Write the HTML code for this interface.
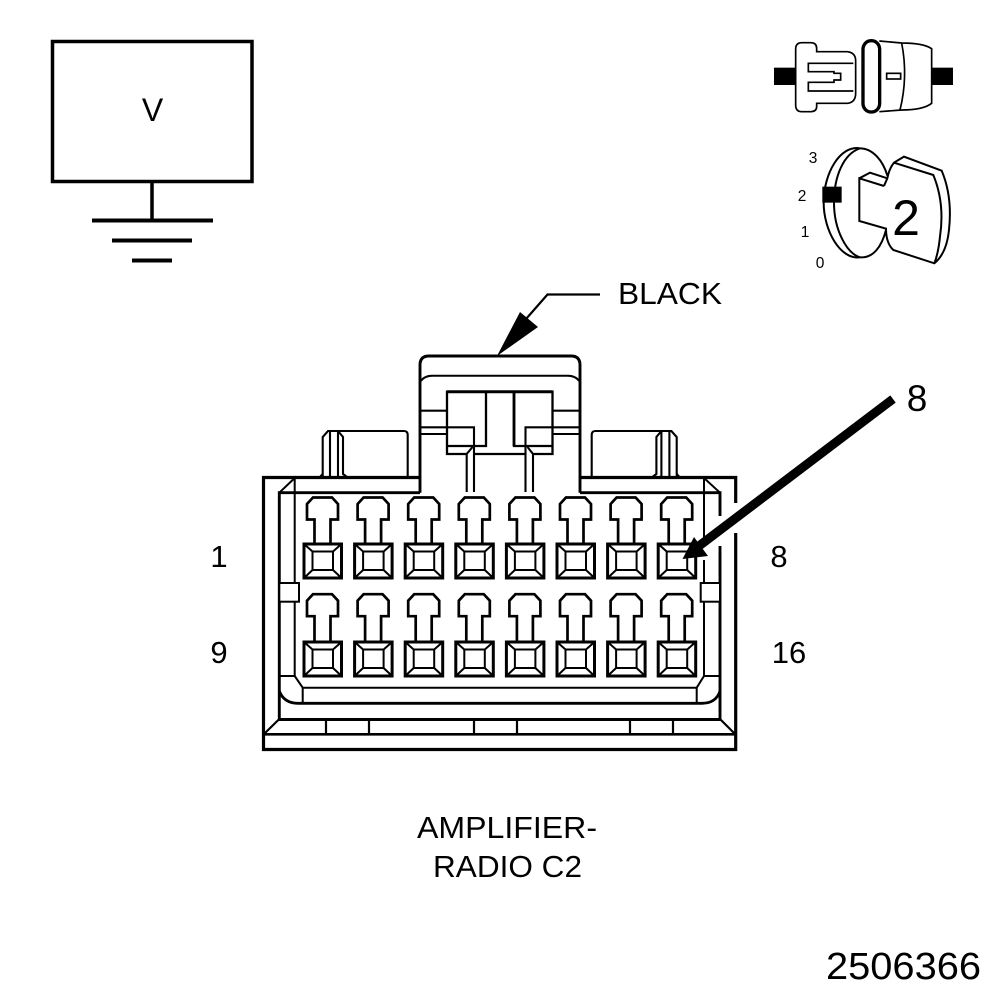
<!DOCTYPE html>
<html>
<head>
<meta charset="utf-8">
<title>Amplifier-Radio C2</title>
<style>
html,body{margin:0;padding:0;background:#fff;}
svg{display:block;}
text{font-family:"Liberation Sans",Arial,sans-serif;fill:#000;stroke:none;}
</style>
</head>
<body>
<svg width="1008" height="1000" viewBox="0 0 1008 1000" xmlns="http://www.w3.org/2000/svg">
<defs>
<g id="head" fill="none" stroke="#000" stroke-width="2.7">
  <path d="M314.5,544 V519.5 H307 V504 L313,497.5 H332 L338,504 V519.5 H330.5 V544"/>
</g>
<g id="sq" fill="none" stroke="#000">
  <rect x="304" y="544" width="37.5" height="34" fill="#fff" stroke-width="3"/>
  <rect x="312.5" y="551.5" width="20.5" height="18.5" stroke-width="2"/>
  <path d="M304,544 L312.5,551.5 M341.5,544 L333,551.5 M304,578 L312.5,570 M341.5,578 L333,570" stroke-width="2"/>
</g>
</defs>
<rect width="1008" height="1000" fill="#fff"/>

<!-- Ground box -->
<g fill="none" stroke="#000">
  <rect x="52.5" y="41.5" width="199.5" height="140" stroke-width="3.5"/>
  <path d="M152,182 V220" stroke-width="3.5"/>
  <path d="M92,220.5 H213 M112,240.5 H192 M132,260.5 H172" stroke-width="4"/>
</g>
<text x="152.5" y="121" font-size="32" text-anchor="middle">V</text>

<!-- Top right icons -->
<g transform="translate(760,30) scale(0.3333)" fill="none" stroke="#000" stroke-width="5">
  <rect x="42" y="113" width="66" height="52" fill="#000" stroke="none"/>
  <rect x="515" y="113" width="64" height="52" fill="#000" stroke="none"/>
  <path d="M107,58 Q107,38 125,38 H152 Q170,38 170,55 V65 H262 Q287,68 287,92 V190 Q287,217 262,220 H170 V230 Q170,245 152,245 H125 Q107,245 107,225 Z" fill="#fff"/>
  <path d="M280,100 H145 V125 H222 V130 H242 V150 H222 V157 H145 V183 H280"/>
  <path d="M358,33 L425,39 Q490,39 515,56 V220 Q490,240 425,240 L358,245" fill="#fff"/>
  <path d="M425,39 Q445,140 420,240"/>
  <rect x="380" y="130" width="42" height="17"/>
  <rect x="309" y="32" width="50" height="214" rx="24" ry="26" stroke-width="10" fill="#fff"/>

  <path d="M300,355 C240,345 191,430 191,518 C191,600 240,690 300,682" stroke-width="6"/>
  <path d="M300,355 C340,355 370,395 382,437 M300,682 C340,685 365,650 378,600" stroke-width="6"/>
  <path d="M300,355 C250,372 222,440 222,518 C222,600 260,670 300,682" stroke-width="6"/>
  <path d="M372,468 L298,445 V573 L378,596 Q378,640 400,660 L523,700 Q560,670 567,600 Q578,500 545,422 L432,380 L402,398 Q388,415 382,445 L372,468" stroke-width="6" fill="#fff"/>
  <path d="M298,445 L330,428 L382,445" stroke-width="6"/>
  <path d="M402,398 L520,435 Q555,520 540,620 Q535,670 523,700" stroke-width="6"/>
  <rect x="187" y="470" width="58" height="48" fill="#000" stroke="none"/>
</g>
<text x="813" y="163" font-size="15.5" text-anchor="middle">3</text>
<text x="802" y="201" font-size="15.5" text-anchor="middle">2</text>
<text x="805" y="237" font-size="15.5" text-anchor="middle">1</text>
<text x="820" y="268" font-size="15.5" text-anchor="middle">0</text>
<text x="906" y="235" font-size="50" text-anchor="middle">2</text>

<!-- Connector body -->
<g fill="none" stroke="#000" stroke-linejoin="miter">
  <!-- outer frame -->
  <path d="M420,477.5 H263.5 V749.5 H735.7 V533 M735.7,503 V477.5 H580" stroke-width="3.2"/>
  <path d="M264,734.3 H735" stroke-width="2.6"/>
  <path d="M264,734 L279.3,719 M735,734 L720,719" stroke-width="2.2"/>
  <!-- inner frame -->
  <path d="M420,492.7 H279.3 V719.5 H720 V546 M720,516 V492.7 H580" stroke-width="2.9"/>
  <path d="M326,719 V734 M369,719 V734 M474,719 V734 M517,719 V734 M630,719 V734 M673,719 V734" stroke-width="2.2"/>
  <!-- thin frame -->
  <path d="M279.3,492.7 L294.7,478 V676 H279.3" stroke-width="2"/>
  <path d="M704,545 V478 L720,492.7" stroke-width="2"/>
  <path d="M704,560 V676 H720" stroke-width="2"/>
  <!-- bottom corners -->
  <path d="M294.7,676 L302.7,687.7 V703.3 M302.7,687.7 H696.7 V703.3 M696.7,687.7 L704,676" stroke-width="2"/>
  <path d="M279.3,691 Q284,703.3 298,703.3 H702 Q716,703.3 720,691" stroke-width="2.8"/>
  <!-- side squares -->
  <rect x="279.3" y="583" width="19.7" height="18.7" fill="#fff" stroke-width="2"/>
  <rect x="700.7" y="583" width="19.3" height="18.7" fill="#fff" stroke-width="2"/>

  <!-- tower -->
  <path d="M420,492.7 V365 Q420,356 429,356 H571 Q580,356 580,365 V492.7" stroke-width="2.9"/>
  <path d="M420,382 Q424,375.7 432,375.7 H568 Q576,375.7 580,382" stroke-width="2"/>
  <path d="M420,410.7 H447 M420,427.3 H474 V446 M420,434 H447" stroke-width="2.1"/>
  <path d="M580,410.7 H553 M580,427.3 H525.5 V446 M580,434 H553" stroke-width="2.1"/>
  <path d="M486,392 V446 H447 M514,392 V446 H552.5" stroke-width="2.3"/>
  <path d="M514,392 V446" stroke-width="2.8"/>
  <path d="M467,454 H447 V391.7 H552.5 V454 H533 M474,454 H526" stroke-width="2.3"/>
  <path d="M447,391.7 H552.5" stroke-width="3"/>
  <path d="M474,446 V492 M466.7,492 V454 L472.5,447 M525.5,446 V492 M533,492 V454 L527.5,447" stroke-width="2.1"/>

  <!-- side tabs -->
  <path d="M322.7,477 V437 L328,431 H404 Q407.7,431 407.7,435 V477" stroke-width="2.1"/>
  <path d="M330,431 V477 M338,431 V477 M338,431 L343,437 V474 L347,477 M322.7,474 L320,477" stroke-width="2.1"/>
  <path d="M676.7,477 V437 L671.4,431 H595.4 Q591.7,431 591.7,435 V477" stroke-width="2.1"/>
  <path d="M669.4,431 V477 M661.4,431 V477 M661.4,431 L656.4,437 V474 L652.4,477 M676.7,474 L679.4,477" stroke-width="2.1"/>
</g>

<!-- Pins row 1 -->
<use href="#head"/><use href="#sq"/>
<use href="#head" x="50.6"/><use href="#sq" x="50.6"/>
<use href="#head" x="101.2"/><use href="#sq" x="101.2"/>
<use href="#head" x="151.8"/><use href="#sq" x="151.8"/>
<use href="#head" x="202.4"/><use href="#sq" x="202.4"/>
<use href="#head" x="253"/><use href="#sq" x="253"/>
<use href="#head" x="303.6"/><use href="#sq" x="303.6"/>
<use href="#head" x="354.2"/><use href="#sq" x="354.2"/>
<!-- Pins row 2 -->
<use href="#head" y="96.7"/><use href="#sq" y="98"/>
<use href="#head" x="50.6" y="96.7"/><use href="#sq" x="50.6" y="98"/>
<use href="#head" x="101.2" y="96.7"/><use href="#sq" x="101.2" y="98"/>
<use href="#head" x="151.8" y="96.7"/><use href="#sq" x="151.8" y="98"/>
<use href="#head" x="202.4" y="96.7"/><use href="#sq" x="202.4" y="98"/>
<use href="#head" x="253" y="96.7"/><use href="#sq" x="253" y="98"/>
<use href="#head" x="303.6" y="96.7"/><use href="#sq" x="303.6" y="98"/>
<use href="#head" x="354.2" y="96.7"/><use href="#sq" x="354.2" y="98"/>

<!-- BLACK leader -->
<path d="M600,294.5 H547.5 L526,319" fill="none" stroke="#000" stroke-width="2.2"/>
<polygon points="497,356 520,312 538,327" fill="#000"/>
<!-- Pin 8 arrow -->
<path d="M893,399 L695,549" fill="none" stroke="#000" stroke-width="9"/>
<polygon points="682.5,559 694,537 708,556" fill="#000"/>

<!-- Labels -->
<text x="618" y="304" font-size="31" textLength="104" lengthAdjust="spacingAndGlyphs">BLACK</text>
<text x="917" y="411" font-size="37" text-anchor="middle">8</text>
<text x="219" y="567" font-size="31" text-anchor="middle">1</text>
<text x="779" y="567" font-size="31" text-anchor="middle">8</text>
<text x="219" y="663" font-size="31" text-anchor="middle">9</text>
<text x="789" y="663" font-size="31" text-anchor="middle">16</text>
<text x="417" y="838" font-size="31" textLength="180" lengthAdjust="spacingAndGlyphs">AMPLIFIER-</text>
<text x="433" y="877" font-size="31" textLength="149" lengthAdjust="spacingAndGlyphs">RADIO C2</text>
<text x="826" y="979" font-size="38" textLength="155" lengthAdjust="spacingAndGlyphs">2506366</text>
</svg>
</body>
</html>
